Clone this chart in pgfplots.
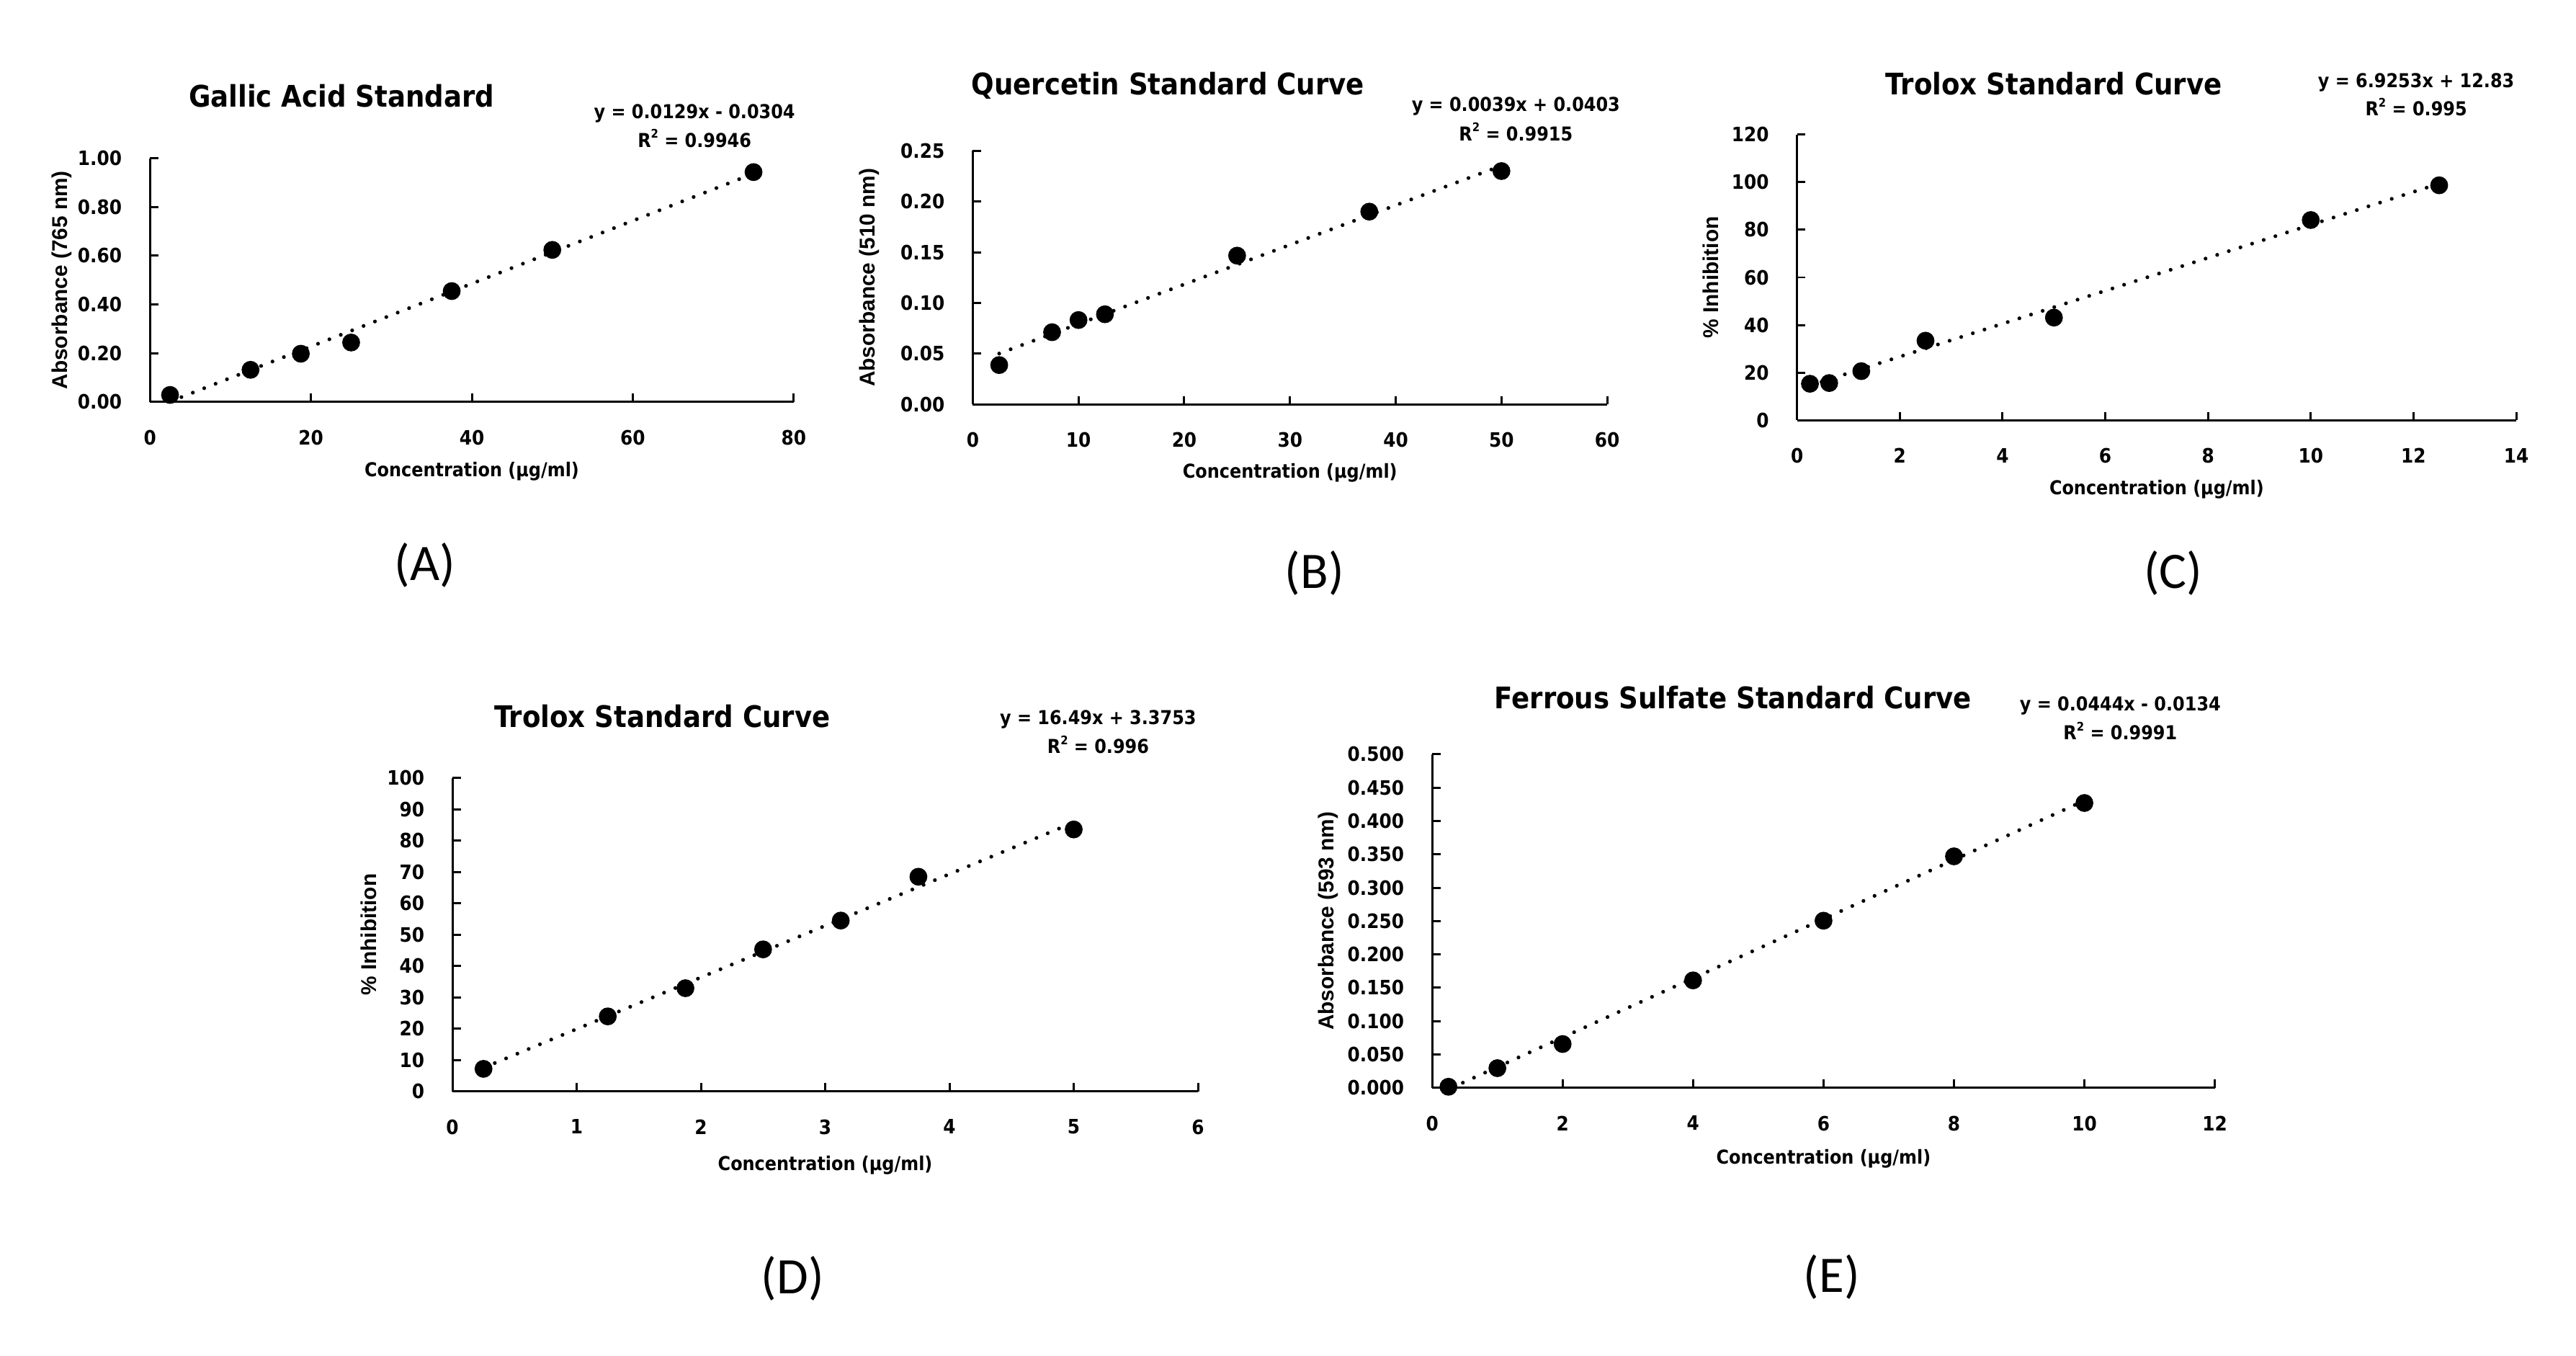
\documentclass[border=0pt]{standalone}
\usepackage{fontspec}
\setmainfont{DejaVu Sans Condensed}[BoldFont={DejaVu Sans Condensed Bold}]
\newfontfamily\ylabfont{Liberation Sans}[BoldFont={Liberation Sans Bold}]
\newfontfamily\panelfont{Carlito}
\usepackage{pgfplots}
\pgfplotsset{compat=1.18}
\pgfplotsset{
  std/.style={
    scale only axis, anchor=south west,
    axis x line*=bottom, axis y line*=left,
    axis line style={line width=0.65pt, black},
    tick align=inside, major tick length=2.5pt,
    every tick/.style={line width=0.65pt, black},
    /pgf/number format/assume math mode=true,
    tick label style={font=\bfseries\fontsize{6}{7}\selectfont},
    xticklabel style={yshift=-5pt},
    yticklabel style={xshift=-5pt},
    xlabel={Concentration (µg/ml)},
    xlabel style={font=\bfseries\fontsize{5.8}{7}\selectfont, anchor=center},
    ylabel style={font=\ylabfont\bfseries\fontsize{6.5}{7}\selectfont, anchor=center},
    clip=false, scaled ticks=false,
  },
  trend/.style={black, line width=1.15pt, dash pattern=on 0pt off 3.7pt, line cap=round},
  pts/.style={only marks, mark=*, mark size=2.5pt, black, mark options={fill=black, draw=black}},
}
\newcommand{\ttl}{\bfseries\fontsize{9}{10}\selectfont}
\newcommand{\eqf}{\bfseries\fontsize{5.8}{7}\selectfont}
\newcommand{\rsq}{R\raisebox{0.85ex}{\fontsize{3.6}{4}\selectfont 2}}
\newcommand{\pnl}{\panelfont\fontsize{15.5}{17}\selectfont}
\begin{document}
\begin{tikzpicture}
\useasboundingbox (0,0) rectangle (780pt,410.3pt);

% (A) Gallic acid
\begin{axis}[std, at={(45.4pt,288.6pt)}, width=194.95pt, height=73.8pt,
  xmin=0, xmax=80, ymin=0, ymax=1,
  xtick={0,20,40,60,80}, ytick={0,0.2,0.4,0.6,0.8,1},
  yticklabel style={/pgf/number format/.cd, fixed, fixed zerofill, precision=2},
  ylabel={Absorbance (765 nm)},
  ylabel style={at={(axis description cs:-0.137,0.5)}},
  xlabel style={at={(axis description cs:0.5,-0.284)}}]
\addplot[trend] coordinates {(2.5,0.0019) (75,0.937)};
\addplot[pts] coordinates {(2.5,0.029) (12.5,0.132) (18.75,0.198) (25,0.244) (37.5,0.455) (50,0.624) (75,0.943)};
\end{axis}

% (B) Quercetin
\begin{axis}[std, at={(294.55pt,287.9pt)}, width=192.1pt, height=76.75pt,
  xmin=0, xmax=60, ymin=0, ymax=0.25,
  xtick={0,10,20,30,40,50,60}, ytick={0,0.05,0.1,0.15,0.2,0.25},
  yticklabel style={/pgf/number format/.cd, fixed, fixed zerofill, precision=2},
  ylabel={Absorbance (510 nm)},
  ylabel style={at={(axis description cs:-0.163,0.5)}},
  xlabel style={at={(axis description cs:0.5,-0.270)}}]
\addplot[trend] coordinates {(2.5,0.05005) (50,0.2353)};
\addplot[pts] coordinates {(2.5,0.0387) (7.5,0.0711) (10,0.0831) (12.5,0.0888) (25,0.1466) (37.5,0.190) (50,0.230)};
\end{axis}

% (C) Trolox 1
\begin{axis}[std, at={(544.15pt,283.1pt)}, width=217.75pt, height=86.45pt,
  xmin=0, xmax=14, ymin=0, ymax=120,
  xtick={0,2,4,6,8,10,12,14}, ytick={0,20,40,60,80,100,120},
  ylabel={\% Inhibition},
  ylabel style={at={(axis description cs:-0.120,0.5)}},
  xlabel style={at={(axis description cs:0.5,-0.243)}}]
\addplot[trend] coordinates {(0.25,14.56) (12.5,99.40)};
\addplot[pts] coordinates {(0.25,15.3) (0.625,15.6) (1.25,20.6) (2.5,33.4) (5,43.1) (10,84.1) (12.5,98.7)};
\end{axis}

% (D) Trolox 2
\begin{axis}[std, at={(137.0pt,79.95pt)}, width=225.75pt, height=94.8pt,
  xmin=0, xmax=6, ymin=0, ymax=100,
  xtick={0,1,2,3,4,5,6}, ytick={0,10,20,30,40,50,60,70,80,90,100},
  ylabel={\% Inhibition},
  ylabel style={at={(axis description cs:-0.112,0.5)}},
  xlabel style={at={(axis description cs:0.5,-0.237)}}]
\addplot[trend] coordinates {(0.25,7.50) (5,85.83)};
\addplot[pts] coordinates {(0.25,7.15) (1.25,23.9) (1.875,32.9) (2.5,45.3) (3.125,54.5) (3.75,68.5) (5,83.6)};
\end{axis}

% (E) Ferrous sulfate
\begin{axis}[std, at={(433.65pt,81.0pt)}, width=237pt, height=100.95pt,
  xmin=0, xmax=12, ymin=0, ymax=0.5,
  xtick={0,2,4,6,8,10,12}, ytick={0,0.05,0.1,0.15,0.2,0.25,0.3,0.35,0.4,0.45,0.5},
  yticklabel style={/pgf/number format/.cd, fixed, fixed zerofill, precision=3},
  ylabel={Absorbance (593 nm)},
  ylabel style={at={(axis description cs:-0.1325,0.5)}},
  xlabel style={at={(axis description cs:0.5,-0.212)}}]
\addplot[trend] coordinates {(0.30,0.0) (10,0.4306)};
\addplot[pts] coordinates {(0.25,0.0015) (1,0.0294) (2,0.0656) (4,0.161) (6,0.2505) (8,0.347) (10,0.427)};
\end{axis}

% titles
\node[font=\ttl, anchor=base] at (103.45pt,377.95pt) {Gallic Acid Standard};
\node[font=\ttl, anchor=base] at (353.65pt,381.55pt) {Quercetin Standard Curve};
\node[font=\ttl, anchor=base] at (621.9pt,381.55pt) {Trolox Standard Curve};
\node[font=\ttl, anchor=base] at (200.5pt,190.2pt) {Trolox Standard Curve};
\node[font=\ttl, anchor=base] at (524.8pt,195.75pt) {Ferrous Sulfate Standard Curve};

% equations
\node[font=\eqf, anchor=base] at (210.3pt,374.45pt) {y = 0.0129x - 0.0304};
\node[font=\eqf, anchor=base] at (210.3pt,365.8pt) {\rsq{} = 0.9946};
\node[font=\eqf, anchor=base] at (459pt,376.5pt) {y = 0.0039x + 0.0403};
\node[font=\eqf, anchor=base] at (459pt,367.75pt) {\rsq{} = 0.9915};
\node[font=\eqf, anchor=base] at (731.6pt,383.75pt) {y = 6.9253x + 12.83};
\node[font=\eqf, anchor=base] at (731.6pt,375.25pt) {\rsq{} = 0.995};
\node[font=\eqf, anchor=base] at (332.5pt,191.05pt) {y = 16.49x + 3.3753};
\node[font=\eqf, anchor=base] at (332.5pt,182.15pt) {\rsq{} = 0.996};
\node[font=\eqf, anchor=base] at (642pt,195.2pt) {y = 0.0444x - 0.0134};
\node[font=\eqf, anchor=base] at (642pt,186.35pt) {\rsq{} = 0.9991};

% panel labels
\node[font=\pnl] at (128.7pt,239.3pt) {(A)};
\node[font=\pnl] at (398pt,236.8pt) {(B)};
\node[font=\pnl] at (658pt,236.8pt) {(C)};
\node[font=\pnl] at (240pt,23.2pt) {(D)};
\node[font=\pnl] at (554.65pt,23.8pt) {(E)};
\end{tikzpicture}
\end{document}
